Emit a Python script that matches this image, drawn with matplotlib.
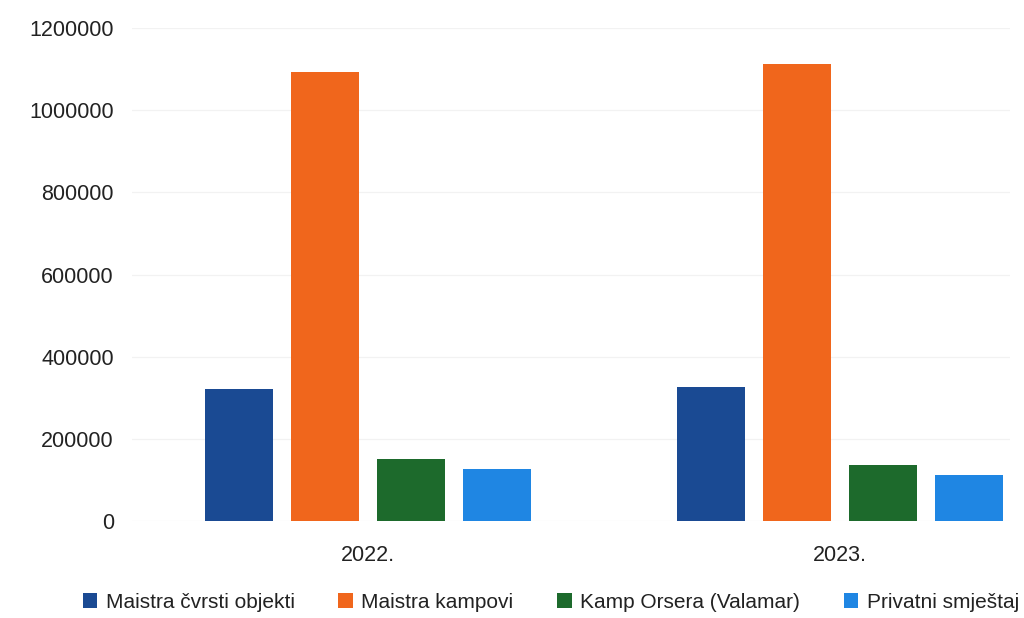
import matplotlib
matplotlib.use("Agg")
import matplotlib.pyplot as plt
import numpy as np

years = ["2022.", "2023."]
series = ["Maistra čvrsti objekti", "Maistra kampovi", "Kamp Orsera (Valamar)", "Privatni smještaj"]
maistra_cvrsti = [322000, 325000]
maistra_kampovi = [1093000, 1112000]
kamp_orsera = [150000, 137000]
privatni = [126000, 113000]
values = [maistra_cvrsti, maistra_kampovi, kamp_orsera, privatni]
colors = ["#1a4a93", "#f0661c", "#1d6a2c", "#1f86e3"]
yticks = [0, 200000, 400000, 600000, 800000, 1000000, 1200000]

plt.rcParams['font.family'] = ['Liberation Sans', 'DejaVu Sans']

fig = plt.figure(figsize=(10.24, 6.18), dpi=100)
ax = fig.add_axes([132/1024, 1-521/618, (1010-132)/1024, (521-28)/618])

x = np.arange(len(years))
pitch = 0.182
width = 0.144
for i, (vals, name, c) in enumerate(zip(values, series, colors)):
    ax.bar(x + (i - 1.5) * pitch, vals, width, color=c, label=name, zorder=3)

ax.set_ylim(0, 1200000)
ax.set_xlim(-0.5, (1010-368)/472)
ax.set_yticks(yticks)
ax.set_yticklabels([str(v) for v in yticks], fontsize=15.5, color="#222222")
ax.set_xticks(x)
ax.set_xticklabels(years, fontsize=15.5, color="#222222")
ax.tick_params(axis='y', length=0, pad=13)
ax.tick_params(axis='x', length=0, pad=17)
ax.grid(axis='y', color="#f2f2f2", linewidth=0.9, zorder=0)
for s in ax.spines.values():
    s.set_visible(False)

fig.legend(loc='lower center', bbox_to_anchor=(0.538, -0.02), ncol=4, frameon=False,
           fontsize=15, handlelength=0.7, handleheight=0.7, handletextpad=0.4,
           columnspacing=2.1, labelcolor="#222222")

fig.savefig("out.png", dpi=100, facecolor="white")
